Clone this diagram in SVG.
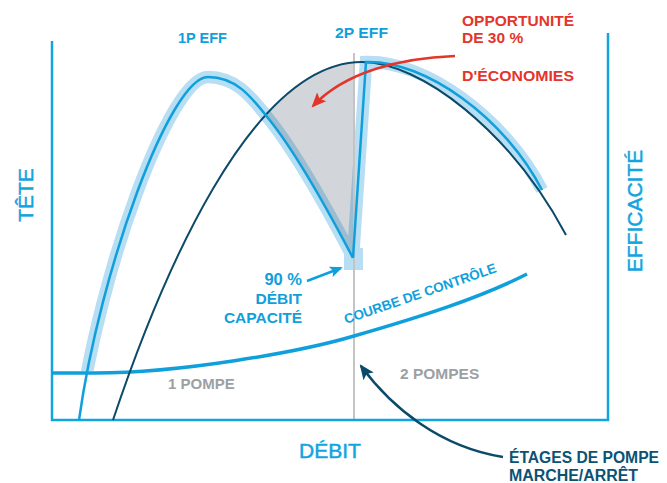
<svg xmlns="http://www.w3.org/2000/svg" width="667" height="483" viewBox="0 0 667 483">
<style>
.t{font-family:"Liberation Sans",Arial,sans-serif;font-weight:bold}
.ax{font-family:"Liberation Sans",Arial,sans-serif;font-size:21px;fill:#12a4df;stroke:#12a4df;stroke-width:0.5}
.blue{fill:#0fa0dc}
.red{fill:#e4352b}
.grey{fill:#9ca0a4}
.navy{fill:#0b5275}
.halo{fill:none;stroke:#b7def3;stroke-width:12.5;stroke-linecap:butt;stroke-linejoin:miter}
</style>
<defs>
<clipPath id="c1"><rect x="0" y="0" width="667" height="371"/></clipPath>
<marker id="ar" viewBox="0 0 14 12" refX="12" refY="6" markerWidth="15" markerHeight="13" markerUnits="userSpaceOnUse" orient="auto"><path d="M0,0 L14,6 L0,12 L3,6 z" fill="#e4352b"/></marker>
<marker id="an" viewBox="0 0 14 12" refX="12" refY="6" markerWidth="15" markerHeight="13" markerUnits="userSpaceOnUse" orient="auto"><path d="M0,0 L14,6 L0,12 L3,6 z" fill="#0c4a6a"/></marker>
<marker id="ab" viewBox="0 0 14 12" refX="12" refY="6" markerWidth="13" markerHeight="11" markerUnits="userSpaceOnUse" orient="auto"><path d="M0,0 L14,6 L0,12 L3,6 z" fill="#0fa0dc"/></marker>
</defs>

<g id="halos">
<path class="halo" clip-path="url(#c1)" d="M79,420 C100,270 170,77 208,77 C235,77 250,95 268,118 C290,145 320,195 353,258"/>
<path class="halo" d="M353,270 L353,258 L366,62 C425,60 505,118 542,190"/>
<rect x="344" y="248" width="19" height="22" fill="#b7def3"/>
</g>

<g id="savings-area">
<path d="M267.7,112.9 C296.8,81.6 328.4,62 354,62 L354,258 L353,258 C320,195 290,145 268,118 Z" fill="#4a5a6a" fill-opacity="0.25"/>
</g>

<g id="divider">
<line x1="354" y1="53" x2="354" y2="420" stroke="#c4c4c4" stroke-width="2"/>
</g>

<g id="axes">
<path d="M52,41 L52,420 L608,420 L608,33" fill="none" stroke="#12a4df" stroke-width="2.5"/>
</g>

<g id="control-curve">
<path d="M52,373 L95,373 C180,373 300,352 354,336 C420,317 480,298 527,274" fill="none" stroke="#0fa0dc" stroke-width="3.5"/>
</g>

<g id="head-curve">
<path d="M113,420 C160,280 250,62 362,62 C420,62 510,130 566,235" fill="none" stroke="#0c4a6a" stroke-width="2"/>
</g>

<g id="eff-1p">
<path d="M79,420 C100,270 170,77 208,77 C235,77 250,95 268,118 C290,145 320,195 353,258" fill="none" stroke="#0fa0dc" stroke-width="2.5"/>
</g>

<g id="eff-2p">
<path d="M353,258 L366,62 C425,60 505,118 542,190" fill="none" stroke="#0fa0dc" stroke-width="2.5" stroke-linejoin="miter"/>
</g>

<g id="connectors">
<path d="M455,56 C400,58 345,72 313,106" fill="none" stroke="#e4352b" stroke-width="2.5" marker-end="url(#ar)"/>
<path d="M503,457 C440,447 392,408 361,366" fill="none" stroke="#0c4a6a" stroke-width="2.5" marker-end="url(#an)"/>
<path d="M307,281 L341,268" fill="none" stroke="#0fa0dc" stroke-width="2.5" marker-end="url(#ab)"/>
</g>

<g id="labels">
<text class="t blue" x="178" y="43" font-size="14.5" textLength="49" lengthAdjust="spacingAndGlyphs">1P EFF</text>
<text class="t blue" x="335" y="38" font-size="14.5" textLength="53" lengthAdjust="spacingAndGlyphs">2P EFF</text>
<text class="t red" x="462" y="26" font-size="15.5" textLength="112" lengthAdjust="spacingAndGlyphs">OPPORTUNITÉ</text>
<text class="t red" x="462" y="43" font-size="15.5">DE 30 %</text>
<text class="t red" x="462" y="81" font-size="15.5" textLength="112" lengthAdjust="spacingAndGlyphs">D'ÉCONOMIES</text>
<text class="ax" transform="translate(33,195) rotate(-90)" text-anchor="middle">TÊTE</text>
<text class="ax" transform="translate(642,211) rotate(-90)" text-anchor="middle">EFFICACITÉ</text>
<text class="ax" x="330" y="458" text-anchor="middle">DÉBIT</text>
<text class="t blue" x="302" y="285" font-size="16.5" text-anchor="end">90 %</text>
<text class="t blue" x="302" y="304" font-size="15.5" text-anchor="end">DÉBIT</text>
<text class="t blue" x="302" y="323" font-size="15.5" text-anchor="end">CAPACITÉ</text>
<text class="t blue" font-size="13.5" transform="translate(346,324) rotate(-19)" textLength="160" lengthAdjust="spacingAndGlyphs">COURBE DE CONTRÔLE</text>
<text class="t grey" x="168" y="389" font-size="15">1 POMPE</text>
<text class="t grey" x="400" y="379" font-size="15.5">2 POMPES</text>
<text class="t navy" x="509" y="463" font-size="16" textLength="150" lengthAdjust="spacingAndGlyphs">ÉTAGES DE POMPE</text>
<text class="t navy" x="509" y="481" font-size="16" textLength="129" lengthAdjust="spacingAndGlyphs">MARCHE/ARRÊT</text>
</g>
</svg>
